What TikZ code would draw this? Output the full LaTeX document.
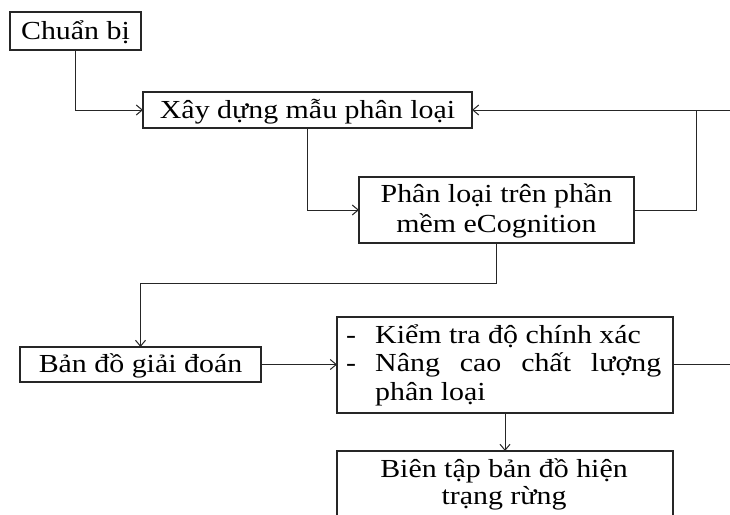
\documentclass[tikz,border=0pt]{standalone}
\usepackage{fontspec}
\setmainfont{Liberation Serif}[FakeStretch=1.15]
\usetikzlibrary{arrows.meta}
\begin{document}
\begin{tikzpicture}[x=1pt,y=-1pt,
  box/.style={draw=black!85,line width=1.2pt,inner sep=0pt,outer sep=0pt,rectangle},
  txt/.style={font=\fontsize{26}{30}\selectfont,text=black,inner sep=0pt},
  one/.style={txt,text height=20pt,text depth=4pt},
  ln/.style={draw=black!85,line width=1pt},
  arr/.style={ln,-{Straight Barb[length=6pt,width=10pt,line width=1pt]}}]
\useasboundingbox (0,0) rectangle (730,514);
\clip (0,0) rectangle (730,514);
\fill[white] (0,0) rectangle (730,514);
% boxes
\node[box,one,minimum width=131pt,minimum height=38pt] (prep) at (75.5,31) {Chuẩn bị};
\node[box,one,minimum width=329pt,minimum height=36pt] (build) at (307.5,110) {Xây dựng mẫu phân loại};
\node[box,minimum width=275pt,minimum height=66pt] (classify) at (496.5,210) {};
\node[box,one,minimum width=241pt,minimum height=35pt] (map) at (140.5,364.5) {Bản đồ giải đoán};
\node[box,minimum width=336pt,minimum height=96pt] (check) at (505,365) {};
\node[box,minimum width=336pt,minimum height=109pt] (edit) at (505,505.5) {};
% multi-line texts
\node[txt,anchor=base] (c1) at (496.5,202) {Phân loại trên phần};
\node[txt,anchor=base] (c2) at (496.5,232) {mềm eCognition};
\node[txt,anchor=base west] (k0a) at (346,343) {-};
\node[txt,anchor=base west] (k0b) at (346,371.5) {-};
\node[txt,anchor=base west] (k1) at (375,343) {Kiểm tra độ chính xác};
\node[txt,anchor=base west] (k2) at (375,371.5) {\makebox[286pt][s]{Nâng cao chất lượng}};
\node[txt,anchor=base west] (k3) at (375,400) {phân loại};
\node[txt,anchor=base] (e1) at (504,477) {Biên tập bản đồ hiện};
\node[txt,anchor=base] (e2) at (504,504) {trạng rừng};
% connectors
\coordinate (j1) at (696,110);
\coordinate (r1) at (730,110);
\coordinate (j2) at (496.5,283);
\coordinate (r2) at (730,364.5);
\draw[arr] (prep.south) |- (build.west);
\draw[arr] (build.south) |- (classify.west);
\draw[arr] (classify.east) -| (j1) -- (build.east);
\draw[ln] (j1) -- (r1);
\draw[arr] (classify.south) -- (j2) -| (map.north);
\draw[arr] (map.east) -- (map.east -| check.west);
\draw[ln] (map.east -| check.east) -- (r2);
\draw[arr] (check.south) -- (edit.north);
\end{tikzpicture}
\end{document}
